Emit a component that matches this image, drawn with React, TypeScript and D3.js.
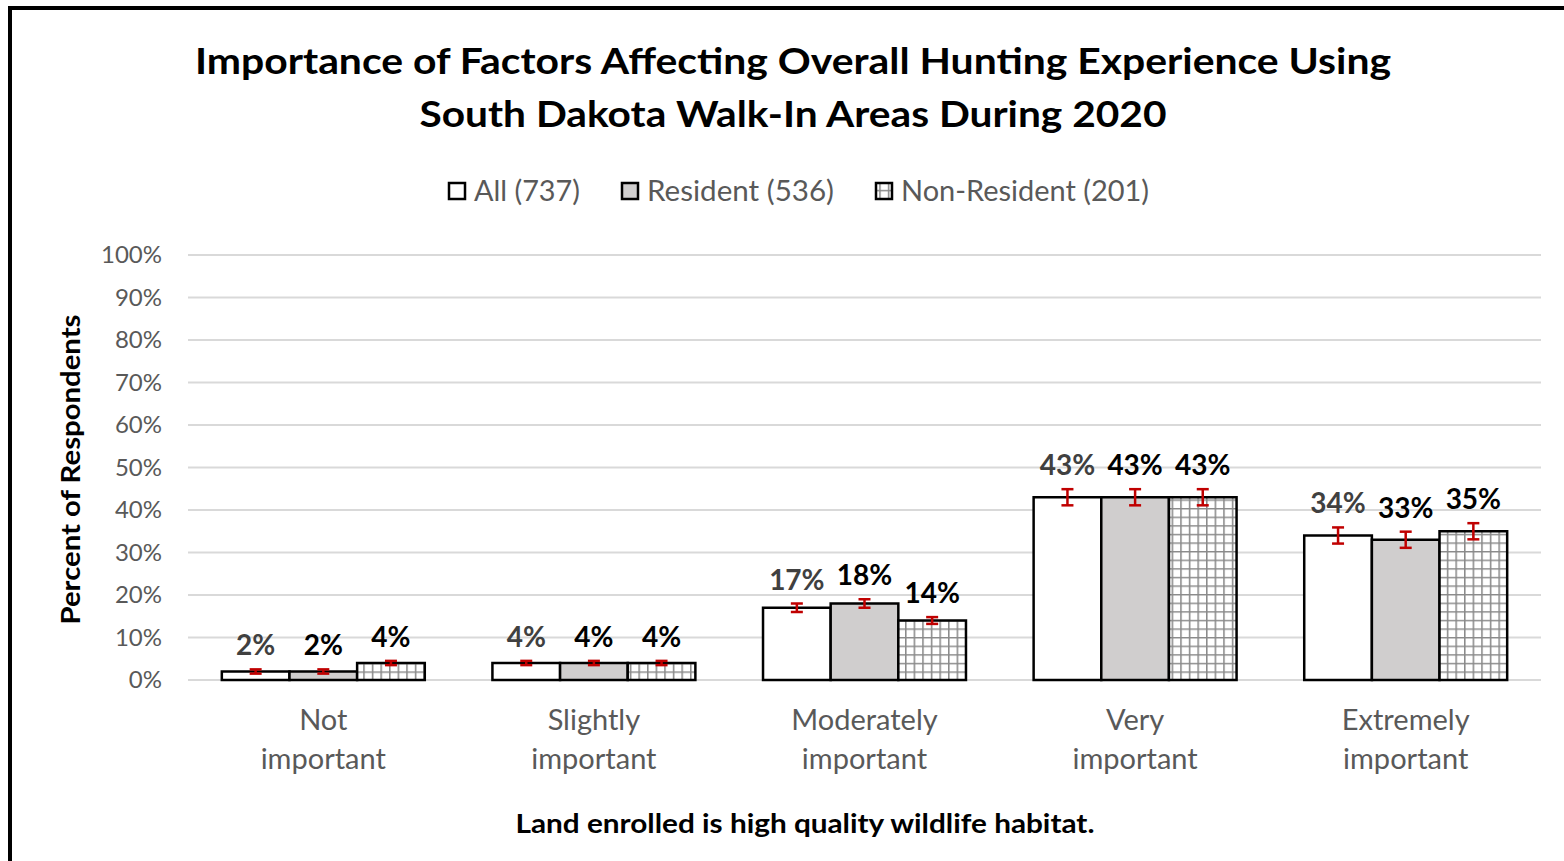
import React from 'react';
import * as d3 from 'd3';

const categories = ['Not important', 'Slightly important', 'Moderately important', 'Very important', 'Extremely important'];
const categoryLines = [['Not', 'important'], ['Slightly', 'important'], ['Moderately', 'important'], ['Very', 'important'], ['Extremely', 'important']];
const seriesNames = ['All (737)', 'Resident (536)', 'Non-Resident (201)'];

const allValues = [2, 4, 17, 43, 34];
const residentValues = [2, 4, 18, 43, 33];
const nonResidentValues = [4, 4, 14, 43, 35];

const allErrors = [0.5, 0.5, 1.0, 1.9, 1.9];
const residentErrors = [0.5, 0.5, 1.0, 1.9, 1.9];
const nonResidentErrors = [0.5, 0.5, 0.8, 1.9, 1.9];

const yTicks = [0, 10, 20, 30, 40, 50, 60, 70, 80, 90, 100];

const FONT = 'Lato, "Open Sans", sans-serif';
const GRAY = '#595959';

const App: React.FC = () => {
  const width = 1564;
  const height = 861;
  const left = 188;
  const right = 1541;
  const top = 255;
  const bottom = 680;

  const y = d3.scaleLinear().domain([0, 100]).range([bottom, top]);
  const x0 = d3.scaleBand<string>().domain(categories).range([left, right]).padding(0);
  const groupW = x0.bandwidth() * 0.75;
  const x1 = d3.scaleBand<string>().domain(seriesNames).range([0, groupW]).padding(0);

  const series = [
    { name: seriesNames[0], values: allValues, errors: allErrors, fill: '#ffffff', label: '#404040' },
    { name: seriesNames[1], values: residentValues, errors: residentErrors, fill: '#d0cece', label: '#000000' },
    { name: seriesNames[2], values: nonResidentValues, errors: nonResidentErrors, fill: 'url(#grid)', label: '#000000' },
  ];

  // legend layout: square x, text width
  const legendX = [449, 622, 876];
  const legendW = [106, 187, 248];

  return (
    <svg width={width} height={height} style={{ position: 'absolute', left: 0, top: 0 }}>
      <defs>
        <pattern id="grid" width={8.6} height={8.6} patternUnits="userSpaceOnUse" x={2} y={bottom}>
          <rect width={8.6} height={8.6} fill="#ffffff" />
          <path d="M0,0.75H8.6M0.75,0V8.6" stroke="#8a8a8a" strokeWidth={1.6} />
        </pattern>
      </defs>
      <rect x={0} y={0} width={width} height={height} fill="#ffffff" />
      <rect x={10} y={8} width={1600} height={900} fill="none" stroke="#000" strokeWidth={4} />

      <text x={793} y={74} textAnchor="middle" fontFamily={FONT} fontWeight={700} fontSize={37} fill="#000"
        textLength={1196} lengthAdjust="spacingAndGlyphs">
        Importance of Factors Affecting Overall Hunting Experience Using
      </text>
      <text x={793} y={127} textAnchor="middle" fontFamily={FONT} fontWeight={700} fontSize={37} fill="#000"
        textLength={747} lengthAdjust="spacingAndGlyphs">
        South Dakota Walk-In Areas During 2020
      </text>

      {series.map((s, i) => (
        <g key={s.name}>
          <rect x={legendX[i]} y={183} width={16} height={16} fill={s.fill} stroke="#000" strokeWidth={2.5} />
          <text x={legendX[i] + 25} y={201} fontFamily={FONT} fontSize={28} fill={GRAY}
            textLength={legendW[i]} lengthAdjust="spacingAndGlyphs">{s.name}</text>
        </g>
      ))}

      {yTicks.map(t => (
        <g key={t}>
          <line x1={left} x2={right} y1={y(t)} y2={y(t)} stroke="#d9d9d9" strokeWidth={2} />
          <text x={162} y={y(t) + 8} textAnchor="end" fontFamily={FONT} fontSize={24} fill={GRAY}>{t}%</text>
        </g>
      ))}

      {categories.map((c, ci) => {
        const gx = (x0(c) ?? 0) + (x0.bandwidth() - groupW) / 2;
        return (
          <g key={c}>
            {series.map(s => {
              const bx = gx + (x1(s.name) ?? 0);
              const bw = x1.bandwidth();
              const v = s.values[ci];
              const e = s.errors[ci];
              const cx = bx + bw / 2;
              return (
                <g key={s.name}>
                  <rect x={bx} y={y(v)} width={bw} height={bottom - y(v)} fill={s.fill} stroke="#000" strokeWidth={2.5} />
                  <line x1={cx} x2={cx} y1={y(v + e)} y2={y(v - e)} stroke="#c00000" strokeWidth={2.5} />
                  <line x1={cx - 6} x2={cx + 6} y1={y(v + e)} y2={y(v + e)} stroke="#c00000" strokeWidth={2.5} />
                  <line x1={cx - 6} x2={cx + 6} y1={y(v - e)} y2={y(v - e)} stroke="#c00000" strokeWidth={2.5} />
                  <text x={cx} y={y(v + e) - 14} textAnchor="middle" fontFamily={FONT} fontWeight={700} fontSize={28} fill={s.label}>{v}%</text>
                </g>
              );
            })}
            {categoryLines[ci].map((ln, li) => (
              <text key={ln} x={(x0(c) ?? 0) + x0.bandwidth() / 2} y={730 + li * 39} textAnchor="middle" fontFamily={FONT} fontSize={29} fill={GRAY}>{ln}</text>
            ))}
          </g>
        );
      })}

      <text transform={`translate(80,${(top + bottom) / 2 + 2}) rotate(-90)`} textAnchor="middle" fontFamily={FONT} fontWeight={700} fontSize={26} fill="#000"
        textLength={310} lengthAdjust="spacingAndGlyphs">
        Percent of Respondents
      </text>
      <text x={805} y={833} textAnchor="middle" fontFamily={FONT} fontWeight={700} fontSize={27} fill="#000"
        textLength={579} lengthAdjust="spacingAndGlyphs">
        Land enrolled is high quality wildlife habitat.
      </text>
    </svg>
  );
};

export default App;
